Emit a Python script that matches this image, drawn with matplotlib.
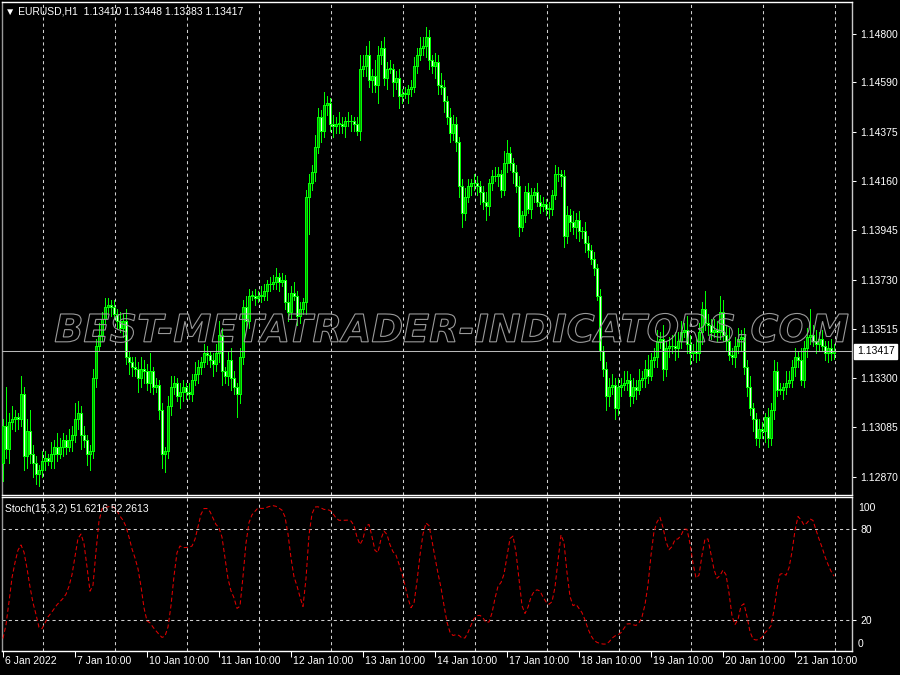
import numpy as np
import matplotlib
matplotlib.use("Agg")
import matplotlib.pyplot as plt
import matplotlib.patheffects as pe

# ---------------- data ----------------
symbol_label = "EURUSD,H1"
last_ohlc = [1.13410, 1.13448, 1.13383, 1.13417]
first_open = 1.1293

close = [
    1.1309, 1.1299, 1.1311, 1.1312, 1.1313, 1.1312, 1.1323, 1.1296, 1.1307, 1.1297,
    1.1293, 1.1288, 1.1290, 1.1294, 1.1295, 1.1294, 1.1297, 1.1300, 1.1297, 1.1300,
    1.1303, 1.1300, 1.1303, 1.1305, 1.1312, 1.1315, 1.1305, 1.1303, 1.1297, 1.1298,
    1.1330, 1.1344, 1.1349, 1.1356, 1.1361, 1.1362, 1.1361, 1.1358, 1.1355, 1.1352,
    1.1355, 1.1339, 1.1337, 1.1335, 1.1334, 1.1330, 1.1334, 1.1333, 1.1328, 1.1333,
    1.1326, 1.1327, 1.1316, 1.1297, 1.1298, 1.1318, 1.1326, 1.1328, 1.1322, 1.1324,
    1.1326, 1.1324, 1.1323, 1.1329, 1.1332, 1.1335, 1.1337, 1.1341, 1.1340, 1.1338,
    1.1336, 1.1341, 1.1349, 1.1333, 1.1331, 1.1338, 1.1330, 1.1326, 1.1323, 1.1339,
    1.1361, 1.1355, 1.1366, 1.1366, 1.1365, 1.1366, 1.1366, 1.1368, 1.1371, 1.1371,
    1.1372, 1.1374, 1.1372, 1.1373, 1.1363, 1.1359, 1.1367, 1.1366, 1.1357, 1.1360,
    1.1363, 1.1409, 1.1415, 1.1420, 1.1431, 1.1444, 1.1438, 1.1449, 1.1450, 1.1441,
    1.1440, 1.1441, 1.1441, 1.1440, 1.1442, 1.1442, 1.1442, 1.1441, 1.1438, 1.1465,
    1.1466, 1.1471, 1.1460, 1.1462, 1.1458, 1.1471, 1.1474, 1.1461, 1.1465, 1.1465,
    1.1459, 1.1461, 1.1453, 1.1454, 1.1454, 1.1456, 1.1457, 1.1466, 1.1471, 1.1474,
    1.1475, 1.1479, 1.1469, 1.1466, 1.1468, 1.1458, 1.1457, 1.1451, 1.1444, 1.1437,
    1.1441, 1.1433, 1.1414, 1.1402, 1.1409, 1.1414, 1.1415, 1.1415, 1.1414, 1.1411,
    1.1407, 1.1405, 1.1415, 1.1418, 1.1418, 1.1419, 1.1412, 1.1424, 1.1428, 1.1424,
    1.1420, 1.1414, 1.1396, 1.1401, 1.1411, 1.1404, 1.1410, 1.1411, 1.1407, 1.1405,
    1.1406, 1.1404, 1.1404, 1.1410, 1.1419, 1.1419, 1.1418, 1.1392, 1.1401, 1.1398,
    1.1396, 1.1399, 1.1394, 1.1394, 1.1389, 1.1386, 1.1382, 1.1378, 1.1366, 1.1342,
    1.1334, 1.1322, 1.1326, 1.1327, 1.1317, 1.1326, 1.1327, 1.1328, 1.1329, 1.1322,
    1.1326, 1.1325, 1.1329, 1.1330, 1.1334, 1.1331, 1.1338, 1.1339, 1.1346, 1.1347,
    1.1334, 1.1343, 1.1344, 1.1344, 1.1343, 1.1346, 1.1350, 1.1351, 1.1345, 1.1341,
    1.1342, 1.1341, 1.1350, 1.1360, 1.1354, 1.1353, 1.1350, 1.1351, 1.1350, 1.1359,
    1.1349, 1.1346, 1.1340, 1.1339, 1.1344, 1.1347, 1.1348, 1.1335, 1.1326, 1.1317,
    1.1312, 1.1304, 1.1308, 1.1307, 1.1313, 1.1304, 1.1316, 1.1333, 1.1325, 1.1325,
    1.1326, 1.1328, 1.1329, 1.1335, 1.1339, 1.1338, 1.1329, 1.1343, 1.1348, 1.1349,
    1.1346, 1.1345, 1.1347, 1.1344, 1.1341, 1.1343, 1.1341, 1.13417,
]

upper_wick_pips = [
    3, 17, 4, 6, 3, 2, 8, 3, 5, 9, 4, 3, 2, 4, 3, 2, 5, 3, 6, 4, 3, 2, 5, 4, 7, 5, 3, 4, 2, 3,
    4, 3, 5, 3, 4, 3, 2, 3, 2, 4, 3, 5, 3, 2, 4, 3, 5, 4, 3, 8, 2, 3, 2, 3, 2, 4, 5, 3, 2, 4,
    3, 2, 4, 3, 5, 3, 2, 4, 3, 2, 3, 4, 6, 3, 2, 4, 5, 3, 2, 4, 3, 5, 3, 2, 3, 2, 4, 3, 2, 3,
    3, 4, 2, 3, 2, 4, 3, 5, 2, 3, 2, 3, 4, 3, 5, 4, 3, 6, 3, 2, 4, 3, 5, 3, 2, 4, 3, 2, 3, 6,
    5, 4, 6, 3, 7, 4, 3, 5, 3, 4, 2, 3, 4, 2, 3, 2, 3, 4, 3, 5, 4, 4, 3, 2, 4, 3, 5, 3, 2, 4,
    4, 3, 2, 3, 4, 3, 2, 4, 3, 2, 3, 4, 2, 3, 4, 3, 2, 5, 6, 3, 2, 3, 4, 2, 3, 4, 3, 2, 4, 3,
    3, 2, 3, 2, 4, 3, 2, 3, 4, 3, 5, 3, 4, 2, 4, 3, 2, 3, 2, 3, 2, 3, 4, 5, 3, 4, 3, 5, 4, 3,
    4, 3, 5, 3, 4, 6, 3, 4, 5, 3, 6, 3, 4, 5, 6, 4, 5, 3, 6, 4, 3, 5, 4, 3, 8, 4, 3, 5, 4, 7,
    5, 4, 6, 3, 4, 5, 3, 4, 3, 5, 2, 3, 4, 3, 2, 4, 3, 5, 4, 3, 2, 5, 4, 3, 4, 3, 5, 3, 4, 11,
    4, 5, 3, 4, 2, 3, 4, 3,
]

lower_wick_pips = [
    8, 4, 6, 3, 5, 4, 3, 6, 5, 4, 6, 4, 5, 3, 4, 2, 3, 6, 3, 2, 4, 3, 2, 5, 3, 4, 6, 3, 5, 7,
    3, 4, 2, 3, 2, 3, 4, 2, 3, 2, 4, 3, 5, 4, 3, 6, 4, 5, 3, 4, 3, 2, 4, 6, 8, 3, 4, 3, 2, 5,
    4, 3, 2, 3, 2, 4, 3, 2, 4, 3, 5, 3, 4, 6, 3, 4, 5, 3, 10, 4, 3, 4, 3, 2, 3, 2, 3, 2, 4, 3,
    2, 3, 4, 2, 3, 4, 3, 2, 4, 3, 2, 5, 16, 3, 4, 3, 5, 3, 4, 3, 5, 3, 4, 3, 5, 2, 4, 3, 2, 4,
    3, 4, 3, 5, 3, 8, 4, 3, 5, 2, 6, 3, 5, 3, 2, 4, 3, 2, 3, 2, 3, 5, 4, 3, 5, 4, 3, 5, 3, 4,
    3, 4, 5, 6, 3, 2, 4, 3, 4, 5, 3, 6, 4, 3, 2, 4, 3, 2, 4, 3, 5, 3, 4, 2, 3, 2, 4, 3, 2, 3,
    2, 3, 4, 3, 2, 3, 4, 5, 3, 4, 3, 5, 4, 3, 4, 3, 2, 3, 2, 4, 3, 6, 4, 3, 5, 3, 4, 2, 3, 4,
    3, 4, 2, 3, 4, 3, 2, 3, 4, 3, 5, 3, 4, 3, 5, 4, 3, 2, 4, 5, 3, 4, 3, 5, 3, 4, 3, 2, 4, 3,
    3, 4, 2, 3, 4, 3, 5, 3, 4, 3, 5, 3, 4, 3, 5, 4, 3, 4, 3, 2, 4, 3, 2, 3, 4, 3, 2, 3, 4, 3,
    2, 4, 3, 2, 3, 4, 3, 3,
]

price_ticks = [1.14800, 1.14590, 1.14375, 1.14160, 1.13945,
               1.13730, 1.13515, 1.13300, 1.13085, 1.12870]
time_labels = ["6 Jan 2022", "7 Jan 10:00", "10 Jan 10:00", "11 Jan 10:00",
               "12 Jan 10:00", "13 Jan 10:00", "14 Jan 10:00", "17 Jan 10:00",
               "18 Jan 10:00", "19 Jan 10:00", "20 Jan 10:00", "21 Jan 10:00"]
bars_per_day = 24
first_midnight_bar = 14
stoch_k, stoch_slow, stoch_d = 15, 3, 2
stoch_levels = [20, 80]
stoch_shown_values = [51.6216, 52.2613]
# first stochastic values (their history lies left of the chart)
stoch_first_bars = [8, 17, 32, 48, 58]
watermark = "BEST-METATRADER-INDICATORS.COM"

# ---------------- derived OHLC ----------------
close = np.array(close, dtype=float)
n = len(close)
assert len(upper_wick_pips) == n and len(lower_wick_pips) == n, \
    (n, len(upper_wick_pips), len(lower_wick_pips))
pip = 0.0001
opens = np.concatenate([[first_open], close[:-1]])
opens[-1] = last_ohlc[0]
high = np.maximum(opens, close) + np.array(upper_wick_pips) * pip
low = np.minimum(opens, close) - np.array(lower_wick_pips) * pip
high[-1] = last_ohlc[1]
low[-1] = last_ohlc[2]


def stochastic(h, l, c, kp, slow, dp):
    m = len(c)
    hh = np.array([h[max(0, i - kp + 1):i + 1].max() for i in range(m)])
    ll = np.array([l[max(0, i - kp + 1):i + 1].min() for i in range(m)])
    num = c - ll
    den = hh - ll
    main = np.array([num[max(0, i - slow + 1):i + 1].sum() /
                     den[max(0, i - slow + 1):i + 1].sum() * 100 for i in range(m)])
    sig = np.array([main[max(0, i - dp + 1):i + 1].mean() for i in range(m)])
    return main, sig


stoch_main, stoch_signal = stochastic(high, low, close, stoch_k, stoch_slow, stoch_d)
stoch_signal[:len(stoch_first_bars)] = stoch_first_bars

# ---------------- figure ----------------
W, H = 900, 675
FONT = ["Liberation Sans Narrow", "Liberation Sans", "DejaVu Sans"]
FS = 7.5
fig = plt.figure(figsize=(W / 100, H / 100), dpi=100, facecolor="black")


def px_rect(x0, y0, x1, y1):
    return [x0 / W, 1 - y1 / H, (x1 - x0) / W, (y1 - y0) / H]


ax = fig.add_axes(px_rect(2, 2, 852, 495))
axs = fig.add_axes(px_rect(2, 497, 852, 651))
for a in (ax, axs):
    a.set_facecolor("black")
    a.set_xlim(-0.33, 283.0)
    for s in ("top", "bottom"):
        a.spines[s].set_color("white")
        a.spines[s].set_linewidth(1.0)
    a.spines["right"].set_color("#c8c8c8")
    a.spines["left"].set_color("#9a9a9a")
    a.spines["right"].set_linewidth(1.0)
    a.spines["left"].set_linewidth(1.0)

ax.set_ylim(1.127901, 1.149409)
axs.set_ylim(-0.3, 101.3)

# vertical day grid
grid_x = [first_midnight_bar - 0.5 + bars_per_day * k for k in range(12)]
for a in (ax, axs):
    for gx in grid_x:
        a.axvline(gx, color="#d0d0d0", lw=0.75, ls=(0, (3, 3)), zorder=1)

# candles
x = np.arange(n)
up = close >= opens
lime = "#00ff00"
ax.vlines(x, low, high, color=lime, lw=0.72, antialiased=False, zorder=3)
body_h = np.where(np.abs(close - opens) < 0.00002, 0.00002, close - opens)
ax.bar(x[up], body_h[up], bottom=opens[up], width=0.55,
       color="#00a000", edgecolor=lime, lw=0.4, zorder=4, antialiased=False)
ax.bar(x[~up], body_h[~up], bottom=opens[~up], width=0.55,
       color="#e8ffe8", edgecolor=lime, lw=0.4, zorder=4, antialiased=False)

# current price line + tag
ax.axhline(last_ohlc[3], color="#b8b8b8", lw=0.75, zorder=5)
ax.annotate(f"{last_ohlc[3]:.5f}", xy=(1, last_ohlc[3]),
            xycoords=("axes fraction", "data"), xytext=(5, 0),
            textcoords="offset pixels", va="center", ha="left",
            color="black", fontsize=FS, family=FONT,
            bbox=dict(boxstyle="square,pad=0.25", fc="white", ec="white"),
            annotation_clip=False, zorder=10)

# watermark
ax.text(0.530, 0.331, watermark, transform=ax.transAxes, ha="center",
        va="center", fontsize=27.5, fontweight="bold", fontstyle="italic",
        family="DejaVu Sans", zorder=6,
        path_effects=[pe.PathPatchEffect(edgecolor="#9a9a9a",
                                         facecolor="none", linewidth=0.8)])

# price axis
ax.yaxis.tick_right()
ax.set_yticks(price_ticks)
ax.set_yticklabels([f"{p:.5f}" for p in price_ticks], family=FONT)
ax.tick_params(axis="y", colors="white", length=3, width=0.75, pad=3,
               labelsize=FS)
ax.tick_params(axis="x", bottom=False, labelbottom=False)

# stochastic panel
for lv in stoch_levels:
    axs.axhline(lv, color="#d0d0d0", lw=0.75, ls=(0, (3, 3)), zorder=1)
axs.plot(x, stoch_signal, color="#e00000", lw=0.75, ls=(0, (4, 2.5)), zorder=3)
axs.yaxis.tick_right()
axs.set_yticks(stoch_levels)
axs.set_yticklabels([str(v) for v in stoch_levels], family=FONT)
axs.tick_params(axis="y", colors="white", length=3, width=0.75, pad=3,
                labelsize=FS)
for val, dy in ((100, -9), (0, 7)):
    axs.annotate(str(val), xy=(1, val), xycoords=("axes fraction", "data"),
                 xytext=(6, dy), textcoords="offset pixels", va="center",
                 ha="left", color="white", fontsize=FS, family=FONT,
                 annotation_clip=False)

label_bars = [bars_per_day * k for k in range(len(time_labels))]
axs.set_xticks(label_bars)
axs.tick_params(axis="x", colors="white", length=4, width=0.75,
                labelbottom=False, direction="out")
for b, lab in zip(label_bars, time_labels):
    axs.annotate(lab, xy=(b, 0), xycoords=("data", "axes fraction"),
                 xytext=(2, -5), textcoords="offset pixels", ha="left",
                 va="top", color="white", fontsize=FS, family=FONT,
                 annotation_clip=False)

# headers
fig.text(5 / W, 1 - 12 / H,
         "\u25BC " + symbol_label + "  " + " ".join(f"{v:.5f}" for v in last_ohlc),
         color="white", fontsize=FS, family=FONT, va="center", ha="left")
fig.text(5 / W, 1 - 509 / H,
         f"Stoch({stoch_k},{stoch_slow},{stoch_d}) "
         + " ".join(f"{v:.4f}" for v in stoch_shown_values),
         color="white", fontsize=FS, family=FONT, va="center", ha="left")

fig.savefig("out.png", dpi=100, facecolor="black")
